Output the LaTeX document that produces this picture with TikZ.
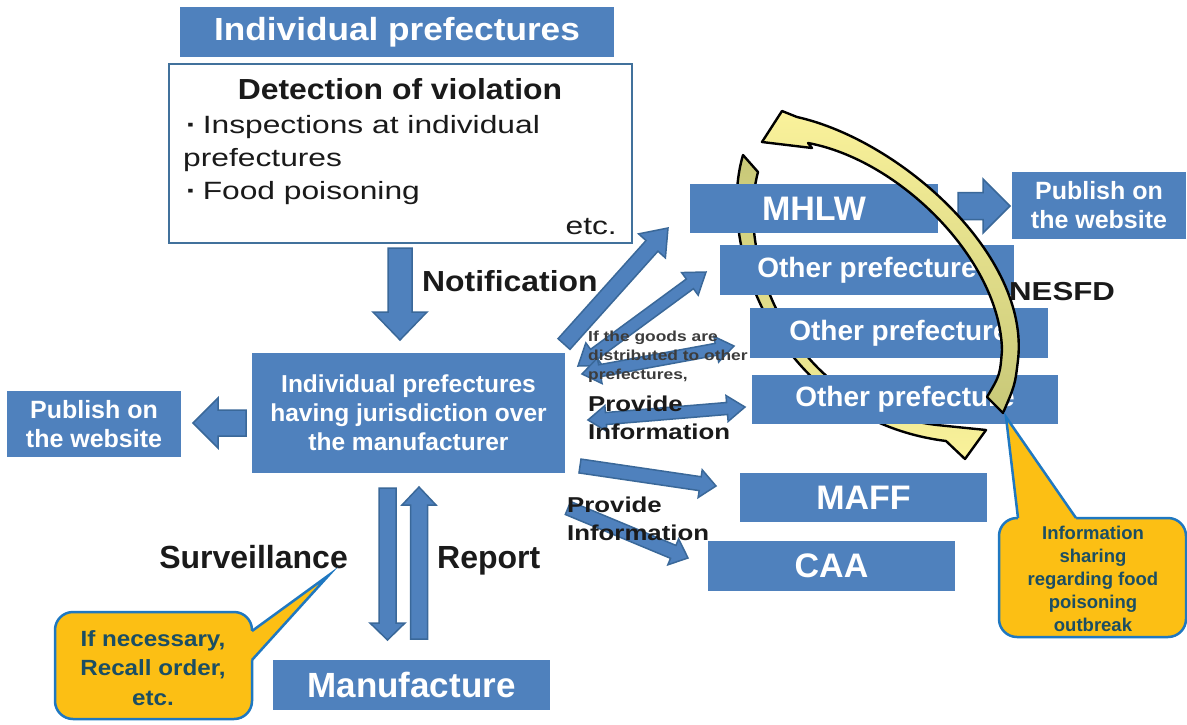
\documentclass[tikz,border=0pt]{standalone}
\usepackage{fontspec}
\setmainfont{Liberation Sans}
\newfontfamily\widefont{Liberation Sans}[FakeStretch=1.1]
\newfontfamily\widerfont{Liberation Sans}[FakeStretch=1.2]
\newfontfamily\regwide{Liberation Sans}[FakeStretch=1.27]
\usetikzlibrary{calc}
\definecolor{boxblue}{HTML}{4F81BD}
\definecolor{arrowborder}{HTML}{3A6899}
\definecolor{detectborder}{HTML}{41719C}
\definecolor{calloutfill}{HTML}{FCBF14}
\definecolor{calloutborder}{HTML}{1F78C1}
\definecolor{callouttext}{HTML}{1B4E63}
\definecolor{labelblack}{HTML}{1A1A1A}
\definecolor{arclight}{HTML}{FAF29B}
\definecolor{arcdark}{HTML}{C8C878}
\tikzset{
  bluebox/.style={fill=boxblue, text=white, inner sep=0pt, align=center},
  barrowstyle/.style={fill=boxblue, draw=arrowborder, line width=1.5pt, line join=miter},
  lbl/.style={text=labelblack, inner sep=0pt},
  calloutbox/.style={fill=calloutfill, draw=calloutborder, line width=2.5pt, rounded corners=18pt, inner sep=0pt},
  calloutline/.style={draw=calloutborder, line width=2.5pt, line join=miter},
  arcstyle/.style={draw=black, line width=2.4pt, line join=round},
}
\newcommand\blockarr[5]{%
  \coordinate (bac) at ($(#2)!#5!(#1)$);
  \draw[barrowstyle] ($(#1)!#3!90:(#2)$) -- ($(bac)!#3!90:(#2)$) -- ($(bac)!#4!90:(#2)$) -- (#2)
    -- ($(bac)!#4!-90:(#2)$) -- ($(bac)!#3!-90:(#2)$) -- ($(#1)!#3!-90:(#2)$) -- cycle;}
\newcommand\dblockarr[5]{%
  \coordinate (bacA) at ($(#1)!#5!(#2)$);
  \coordinate (bacB) at ($(#2)!#5!(#1)$);
  \draw[barrowstyle] (#1) -- ($(bacA)!#4!90:(#2)$) -- ($(bacA)!#3!90:(#2)$) -- ($(bacB)!#3!90:(#2)$)
    -- ($(bacB)!#4!90:(#2)$) -- (#2) -- ($(bacB)!#4!-90:(#2)$) -- ($(bacB)!#3!-90:(#2)$)
    -- ($(bacA)!#3!-90:(#2)$) -- ($(bacA)!#4!-90:(#2)$) -- cycle;}
\begin{document}
\begin{tikzpicture}[x=1pt,y=-1pt]
\useasboundingbox[fill=white] (0,0) rectangle (1187,724);

% back curved arrow (clockwise, behind boxes)
\draw[arcstyle, top color=arcdark, bottom color=arclight]
  (743,155) .. controls (715,250) and (780,420) .. (946,441) -- (965,459) -- (986,430) -- (937,425)
  .. controls (792,408) and (735,258) .. (758,172) -- cycle;

% block arrows
\coordinate (nA) at (400,248); \coordinate (nB) at (400,340);
\coordinate (lA) at (246,423); \coordinate (lB) at (193,423);
\coordinate (sA) at (387.5,488); \coordinate (sB) at (387.5,640);
\coordinate (rA) at (419,639); \coordinate (rB) at (419,487);
\coordinate (pA) at (958,206); \coordinate (pB) at (1010,206);
\coordinate (mA) at (564,344); \coordinate (mB) at (668,228);
\coordinate (o1A) at (578,366); \coordinate (o1B) at (706,272);
\coordinate (o2A) at (582,374); \coordinate (o2B) at (734,346);
\coordinate (o3A) at (588,420); \coordinate (o3B) at (745,407);
\coordinate (fA) at (580,466); \coordinate (fB) at (716,486);
\coordinate (cA) at (568,508); \coordinate (cB) at (688,558);
\blockarr{nA}{nB}{12pt}{27pt}{28pt}
\blockarr{lA}{lB}{13pt}{25pt}{25pt}
\blockarr{sA}{sB}{8.5pt}{17.5pt}{17pt}
\blockarr{rA}{rB}{8.5pt}{17pt}{18pt}
\blockarr{pA}{pB}{13.5pt}{27pt}{27pt}
\blockarr{mA}{mB}{8pt}{18pt}{24pt}
\dblockarr{o1A}{o1B}{6pt}{14pt}{20pt}
\dblockarr{o2A}{o2B}{6pt}{13pt}{18pt}
\dblockarr{o3A}{o3B}{6pt}{13pt}{18pt}
\blockarr{fA}{fB}{7pt}{14pt}{16pt}
\blockarr{cA}{cB}{7pt}{14pt}{16pt}

% boxes
\node[bluebox, minimum width=434pt, minimum height=50pt, font=\widefont\bfseries\fontsize{32}{36}\selectfont] (title) at (397,32) {Individual prefectures};
\node[draw=detectborder, line width=2pt, fill=white, minimum width=463pt, minimum height=179pt, inner sep=0pt] (detect) at (400.5,153.5) {};
\node[lbl, anchor=base, font=\widefont\bfseries\fontsize{29}{33}\selectfont] (dtitle) at (400,99) {Detection of violation};
\node[lbl, anchor=base west, font=\regwide\fontsize{25}{30}\selectfont] (dl1) at (186,133) {\textbf{·}\hspace{6pt}Inspections at individual};
\node[lbl, anchor=base west, font=\regwide\fontsize{25}{30}\selectfont] (dl2) at (183,166) {prefectures};
\node[lbl, anchor=base west, font=\regwide\fontsize{25}{30}\selectfont] (dl3) at (186,199) {\textbf{·}\hspace{6pt}Food poisoning};
\node[lbl, anchor=base east, font=\regwide\fontsize{25}{30}\selectfont] (dl4) at (617,234) {etc.};

\node[bluebox, minimum width=313pt, minimum height=120pt, font=\bfseries\fontsize{24.5}{29}\selectfont] (center) at (408.5,413) {Individual prefectures\\having jurisdiction over\\the manufacturer};
\node[bluebox, minimum width=174pt, minimum height=66pt, font=\bfseries\fontsize{25}{29}\selectfont] (lpub) at (94,424) {Publish on\\the website};
\node[bluebox, minimum width=277pt, minimum height=50pt, font=\bfseries\fontsize{35}{38}\selectfont] (manu) at (411.5,685) {Manufacture};
\node[bluebox, minimum width=248pt, minimum height=49pt, font=\bfseries\fontsize{34}{38}\selectfont] (mhlw) at (814,208.5) {MHLW};
\node[bluebox, minimum width=174pt, minimum height=67pt, font=\bfseries\fontsize{25}{29}\selectfont] (rpub) at (1099,205.5) {Publish on\\the website};
\node[bluebox, minimum width=294pt, minimum height=50pt, font=\bfseries\fontsize{28}{32}\selectfont] (oth1) at (867,270) {Other prefecture};
\node[bluebox, minimum width=298pt, minimum height=50pt, font=\bfseries\fontsize{28}{32}\selectfont] (oth2) at (899,333) {Other prefecture};
\node[bluebox, minimum width=306pt, minimum height=49pt, font=\bfseries\fontsize{28}{32}\selectfont] (oth3) at (905,399.5) {Other prefecture};
\node[bluebox, minimum width=247pt, minimum height=49pt, font=\bfseries\fontsize{34}{38}\selectfont] (maff) at (863.5,497.5) {MAFF};
\node[bluebox, minimum width=247pt, minimum height=50pt, font=\bfseries\fontsize{34}{38}\selectfont] (caa) at (831.5,566) {CAA};

% labels
\node[lbl, anchor=base west, font=\widefont\bfseries\fontsize{29}{33}\selectfont] (notif) at (422,291) {Notification};
\node[lbl, anchor=base east, font=\bfseries\fontsize{32}{36}\selectfont] (surv) at (348,568.5) {Surveillance};
\node[lbl, anchor=base west, font=\bfseries\fontsize{32}{36}\selectfont] (rep) at (437,568.5) {Report};
\node[lbl, anchor=base west, font=\widerfont\bfseries\fontsize{26}{30}\selectfont] (nesfd) at (1009,300) {NESFD};
\node[lbl, anchor=base west, text=labelblack!85, font=\widerfont\bfseries\fontsize{14.5}{19}\selectfont] (ifg1) at (588,341) {If the goods are};
\node[lbl, anchor=base west, text=labelblack!85, font=\widerfont\bfseries\fontsize{14.5}{19}\selectfont] (ifg2) at (588,360) {distributed to other};
\node[lbl, anchor=base west, text=labelblack!85, font=\widerfont\bfseries\fontsize{14.5}{19}\selectfont] (ifg3) at (588,379) {prefectures,};
\node[lbl, anchor=base west, font=\widerfont\bfseries\fontsize{21.5}{28}\selectfont] (pi1a) at (588,411.5) {Provide};
\node[lbl, anchor=base west, font=\widerfont\bfseries\fontsize{21.5}{28}\selectfont] (pi1b) at (588,439.5) {Information};
\node[lbl, anchor=base west, font=\widerfont\bfseries\fontsize{21.5}{28}\selectfont] (pi2a) at (567,512.5) {Provide};
\node[lbl, anchor=base west, font=\widerfont\bfseries\fontsize{21.5}{28}\selectfont] (pi2b) at (567,540.5) {Information};

% front curved arrow (counter-clockwise)
\draw[arcstyle, top color=arclight, bottom color=arcdark]
  (797,117) .. controls (900,140) and (1030,255) .. (1018,360) .. controls (1015,385) .. (1003,413)
  -- (987,397) .. controls (1000,375) .. (1002,350) .. controls (1000,260) and (900,160) .. (808,143)
  -- (812,148) -- (762,142) -- (782,111) -- cycle;

% callouts
\node[calloutbox, minimum width=197pt, minimum height=107pt] (cbox1) at (153.5,665.5) {};
\coordinate (ct1) at (329,575);
\coordinate (cb1a) at (252,631); \coordinate (cb1b) at (252,660);
\fill[calloutfill] ($(cb1a)+(-5,0)$) -- (cb1a) -- (ct1) -- (cb1b) -- ($(cb1b)+(-5,0)$) -- cycle;
\draw[calloutline] (cb1a) -- (ct1) -- (cb1b);
\node[text=callouttext, align=center, inner sep=0pt, font=\widefont\bfseries\fontsize{22}{29.5}\selectfont] (co1) at (153,668) {If necessary,\\Recall order,\\etc.};

\node[calloutbox, minimum width=187pt, minimum height=119pt] (cbox2) at (1092.5,577.5) {};
\coordinate (ct2) at (1006,417);
\coordinate (cb2a) at (1018,518); \coordinate (cb2b) at (1076,518);
\fill[calloutfill] ($(cb2a)+(0,5)$) -- (cb2a) -- (ct2) -- (cb2b) -- ($(cb2b)+(0,5)$) -- cycle;
\draw[calloutline] (cb2a) -- (ct2) -- (cb2b);
\node[text=callouttext, align=center, inner sep=0pt, font=\bfseries\fontsize{18.5}{23}\selectfont] (co2) at (1093,579) {Information\\sharing\\regarding food\\poisoning\\outbreak};
\end{tikzpicture}
\end{document}
